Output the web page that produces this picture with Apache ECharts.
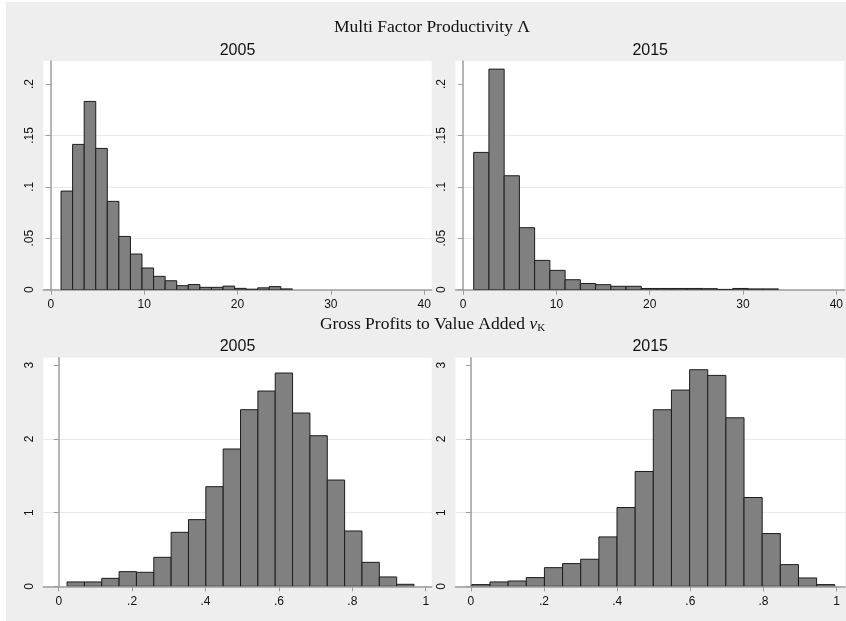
<!DOCTYPE html>
<html>
<head>
<meta charset="utf-8">
<style>
  html, body { margin: 0; padding: 0; background: #ffffff; }
  #chart { position: absolute; left: 6px; top: 2px; width: 840px; height: 619px; background: #eeeeee; }
</style>
<script src="https://cdn.jsdelivr.net/npm/echarts@6/dist/echarts.min.js"></script>
</head>
<body>
<div id="chart"></div>
<script>
// Histogram densities: Multi Factor Productivity, 2005 and 2015
const mfp2005Start = 1.10;
const mfp2005Width = 1.239;
const mfp2005Density = [0.0959, 0.1413, 0.1831, 0.1374, 0.0859, 0.0518, 0.0347, 0.0211, 0.0130, 0.0087,
                        0.0039, 0.0050, 0.0023, 0.0023, 0.0035, 0.0013, 0.0005, 0.0018, 0.0030, 0.0008];

const mfp2015Start = 1.13;
const mfp2015Width = 1.633;
const mfp2015Density = [0.1335, 0.2145, 0.1108, 0.0603, 0.0285, 0.0188, 0.0097, 0.0060, 0.0049, 0.0033,
                        0.0033, 0.0012, 0.0012, 0.0012, 0.0012, 0.0010, 0.0003, 0.0012, 0.0008, 0.0008];

// Histogram densities: Gross Profits to Value Added, 2005 and 2015
const gp2005Start = 0.0227;
const gp2005Width = 0.04727;
const gp2005Density = [0.059, 0.059, 0.108, 0.199, 0.190, 0.393, 0.732, 0.904, 1.351, 1.862,
                       2.395, 2.648, 2.892, 2.350, 2.042, 1.441, 0.750, 0.325, 0.127, 0.027];

const gp2015Start = 0.0027;
const gp2015Width = 0.0496;
const gp2015Density = [0.023, 0.059, 0.072, 0.118, 0.253, 0.308, 0.367, 0.670, 1.068, 1.557,
                       2.394, 2.661, 2.937, 2.860, 2.285, 1.204, 0.715, 0.294, 0.113, 0.023];

// Tick values
const mfpXTicks = [0, 10, 20, 30, 40];
const mfpYTicks = [0, 0.05, 0.1, 0.15, 0.2];
const gpXTicks = [0, 0.2, 0.4, 0.6, 0.8, 1];
const gpYTicks = [0, 1, 2, 3];

const panelYears = ['2005', '2015', '2005', '2015'];

// [left edge, right edge, density] for each bin
function bins(start, width, density) {
  return density.map((d, i) => [start + i * width, start + (i + 1) * width, d]);
}

// Stata-style numbers: drop the leading zero
function fmt(v) {
  const s = String(Math.round(v * 1000) / 1000);
  return s.replace(/^0\./, '.');
}

const axisGray = '#9c9c9c';
const labelFont = { fontFamily: 'Liberation Sans, Arial, sans-serif', fontSize: 12, color: '#111111' };

const grids = [
  { left: 37.3, top: 59, width: 388.4, height: 228.7 },
  { left: 449.5, top: 59, width: 389.5, height: 228.7 },
  { left: 37.3, top: 355.7, width: 388.4, height: 228.6 },
  { left: 449.5, top: 355.7, width: 389.5, height: 228.6 }
].map(g => Object.assign({ show: true, backgroundColor: '#ffffff', borderWidth: 0 }, g));

function xAxis(idx, min, max, ticks) {
  return {
    type: 'value', gridIndex: idx, min: min, max: max,
    axisLine: { show: true, onZero: false, lineStyle: { color: axisGray, width: 1.5 } },
    axisTick: { show: true, length: 5, customValues: ticks, lineStyle: { color: axisGray, width: 1 } },
    axisLabel: Object.assign({ customValues: ticks, margin: 9, formatter: fmt }, labelFont),
    splitLine: { show: false }
  };
}

function yAxis(idx, max, ticks, interval) {
  return {
    type: 'value', gridIndex: idx, min: 0, max: max, interval: interval,
    axisLine: { show: true, lineStyle: { color: axisGray, width: 1.5 } },
    axisTick: { show: true, length: 5, customValues: ticks, lineStyle: { color: axisGray, width: 1 } },
    axisLabel: Object.assign({ customValues: ticks, margin: 8, rotate: 90, formatter: fmt }, labelFont),
    splitLine: { show: true, showMaxLine: false, showMinLine: false, lineStyle: { color: '#eaeaea', width: 1.2 } }
  };
}

function renderBar(params, api) {
  const p0 = api.coord([api.value(0), 0]);
  const p1 = api.coord([api.value(1), api.value(2)]);
  return {
    type: 'rect',
    shape: { x: p0[0], y: p1[1], width: p1[0] - p0[0], height: p0[1] - p1[1] },
    style: { fill: '#808080', stroke: '#1c1c1c', lineWidth: 1 }
  };
}

function histSeries(idx, data) {
  return {
    type: 'custom', xAxisIndex: idx, yAxisIndex: idx,
    renderItem: renderBar, encode: { x: [0, 1], y: 2 },
    data: data, clip: true, silent: true
  };
}

const serifFont = '17.5px "Liberation Serif", "Times New Roman", serif';
const sansTitle = '16px "Liberation Sans", Arial, sans-serif';

function centeredText(x, y, text, font) {
  return {
    type: 'text', x: x, y: y, silent: true,
    style: { text: text, font: font, fill: '#111111', align: 'center', verticalAlign: 'middle',
             textAlign: 'center', textVerticalAlign: 'middle' }
  };
}

const chart = echarts.init(document.getElementById('chart'), null, { renderer: 'canvas' });

chart.setOption({
  animation: false,
  backgroundColor: 'transparent',
  grid: grids,
  xAxis: [
    xAxis(0, -0.80, 40.80, mfpXTicks),
    xAxis(1, -0.82, 40.87, mfpXTicks),
    xAxis(2, -0.042, 1.0163, gpXTicks),
    xAxis(3, -0.042, 1.0227, gpXTicks)
  ],
  yAxis: [
    yAxis(0, 0.2224, mfpYTicks, 0.05),
    yAxis(1, 0.2224, mfpYTicks, 0.05),
    yAxis(2, 3.1, gpYTicks, 1),
    yAxis(3, 3.1, gpYTicks, 1)
  ],
  series: [
    histSeries(0, bins(mfp2005Start, mfp2005Width, mfp2005Density)),
    histSeries(1, bins(mfp2015Start, mfp2015Width, mfp2015Density)),
    histSeries(2, bins(gp2005Start, gp2005Width, gp2005Density)),
    histSeries(3, bins(gp2015Start, gp2015Width, gp2015Density))
  ],
  graphic: [
    centeredText(426, 25.5, 'Multi Factor Productivity \u039B', serifFont),
    centeredText(231.5, 48.5, panelYears[0], sansTitle),
    centeredText(644.2, 48.5, panelYears[1], sansTitle),
    {
      type: 'text', x: 426.5, y: 322, silent: true,
      style: {
        text: '{t|Gross Profits to Value Added }{v|v}{k|K}',
        align: 'center', verticalAlign: 'middle', textAlign: 'center', textVerticalAlign: 'middle',
        fill: '#111111',
        rich: {
          t: { font: serifFont, fill: '#111111', lineHeight: 22 },
          v: { font: 'italic ' + serifFont, fill: '#111111', lineHeight: 22 },
          k: { font: '11px "Liberation Serif", "Times New Roman", serif', fill: '#111111',
               lineHeight: 22, padding: [8, 0, 0, 0] }
        }
      }
    },
    centeredText(231.5, 345, panelYears[2], sansTitle),
    centeredText(644.2, 345, panelYears[3], sansTitle)
  ]
});
</script>
</body>
</html>
